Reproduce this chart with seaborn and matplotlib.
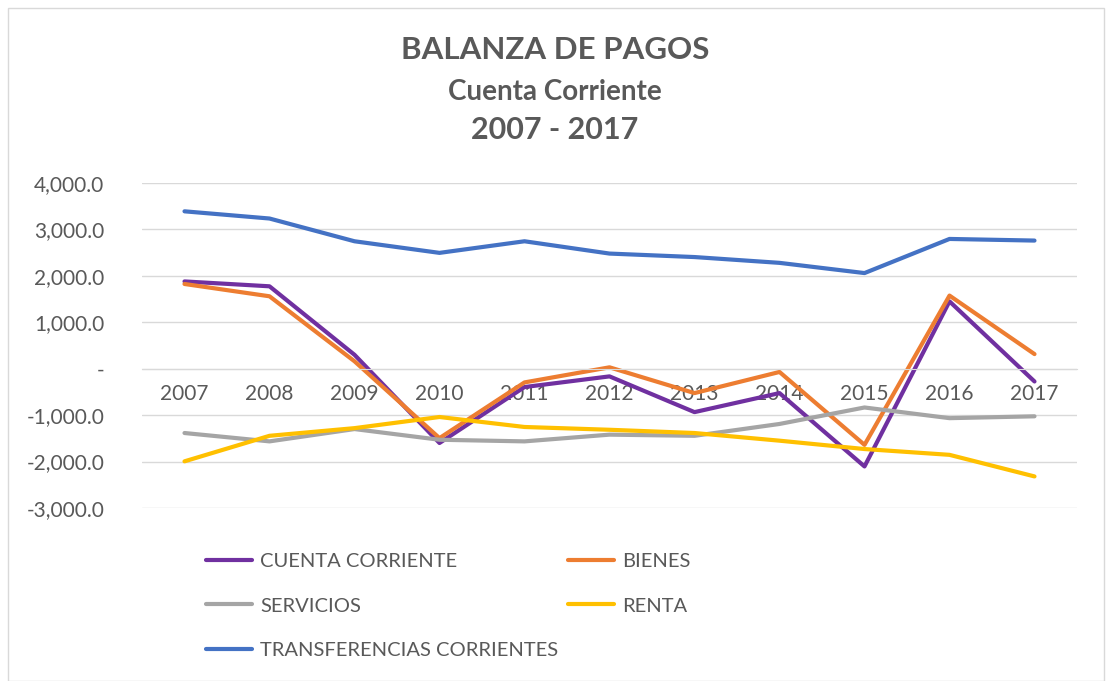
import matplotlib
matplotlib.use("Agg")
import matplotlib.pyplot as plt
import matplotlib.ticker as mticker
from matplotlib.patches import Rectangle
import seaborn as sns
import pandas as pd

years = [str(y) for y in range(2007, 2018)]
cuenta_corriente = [1880, 1775, 300, -1600, -395, -165, -935, -525, -2105, 1450, -275]
bienes = [1825, 1560, 160, -1495, -295, 30, -525, -70, -1640, 1575, 315]
servicios = [-1385, -1565, -1300, -1530, -1565, -1420, -1445, -1190, -835, -1065, -1025]
renta = [-1995, -1445, -1280, -1040, -1255, -1315, -1385, -1550, -1730, -1855, -2320]
transferencias = [3390, 3235, 2745, 2495, 2745, 2480, 2405, 2280, 2060, 2795, 2760]

series = {
    "CUENTA CORRIENTE": cuenta_corriente,
    "BIENES": bienes,
    "SERVICIOS": servicios,
    "RENTA": renta,
    "TRANSFERENCIAS CORRIENTES": transferencias,
}
colors = {
    "CUENTA CORRIENTE": "#7030A0",
    "BIENES": "#ED7D31",
    "SERVICIOS": "#A5A5A5",
    "RENTA": "#FFC000",
    "TRANSFERENCIAS CORRIENTES": "#4472C4",
}

rows = []
for name, vals in series.items():
    for i, (yr, v) in enumerate(zip(years, vals)):
        rows.append({"serie": name, "pos": i, "year": yr, "valor": v})
df = pd.DataFrame(rows)

sns.set_style("white")
plt.rcParams["font.family"] = ["Lato", "DejaVu Sans"]
text_color = "#595959"

fig = plt.figure(figsize=(11.1, 6.81), dpi=100)
ax = fig.add_axes([142 / 1110, 1 - 508 / 681, (1077 - 142) / 1110, (508 - 183) / 681])

sns.lineplot(data=df, x="pos", y="valor", hue="serie", palette=colors,
             hue_order=list(series.keys()), linewidth=3, ax=ax, legend=True,
             sort=False)
for line in ax.get_lines():
    line.set_solid_capstyle("round")
    line.set_solid_joinstyle("round")

ax.set_xlim(-0.5, len(years) - 0.5)
ax.set_ylim(-3000, 4000)
ax.set_yticks(range(-3000, 4001, 1000))
ax.yaxis.set_major_formatter(mticker.FuncFormatter(
    lambda v, p: "-" if v == 0 else f"{v:,.1f}"))
ax.set_xticks(range(len(years)))
ax.set_xticklabels(years)
ax.grid(axis="y", color="#D9D9D9", linewidth=1)
ax.set_axisbelow(True)
for s in ["top", "right", "left"]:
    ax.spines[s].set_visible(False)
ax.spines["bottom"].set_position(("data", 0))
ax.spines["bottom"].set_color("#D9D9D9")
ax.tick_params(axis="both", length=0, labelsize=15, labelcolor=text_color)
ax.tick_params(axis="x", pad=11)
ax.tick_params(axis="y", pad=27)
ax.set_xlabel("")
ax.set_ylabel("")

handles, labels = ax.get_legend_handles_labels()
ax.get_legend().remove()
hmap = dict(zip(labels, handles))
order = ["CUENTA CORRIENTE", "SERVICIOS", "TRANSFERENCIAS CORRIENTES", "BIENES", "RENTA"]
leg = fig.legend([hmap[o] for o in order], order, ncol=2, frameon=False,
                 loc="upper left", bbox_to_anchor=(188 / 1110, 1 - 535 / 681),
                 fontsize=14.5, handlelength=2.3, columnspacing=0.45,
                 labelspacing=1.35, handletextpad=0.4)
for t in leg.get_texts():
    t.set_color(text_color)
for l in leg.get_lines():
    l.set_linewidth(3)

fig.text(0.5, 1 - 50 / 681, "BALANZA DE PAGOS", ha="center", va="center",
         fontsize=22.5, fontweight="bold", color=text_color)
fig.text(0.5, 1 - 92 / 681, "Cuenta Corriente", ha="center", va="center",
         fontsize=20, fontweight="bold", color=text_color)
fig.text(0.5, 1 - 130 / 681, "2007 - 2017", ha="center", va="center",
         fontsize=22, fontweight="bold", color=text_color)

fig.patches.append(Rectangle((8 / 1110, 0), 1 - 14 / 1110, 1 - 8 / 681,
                             transform=fig.transFigure, fill=False,
                             edgecolor="#D9D9D9", linewidth=1))

fig.savefig("out.png", dpi=100)
